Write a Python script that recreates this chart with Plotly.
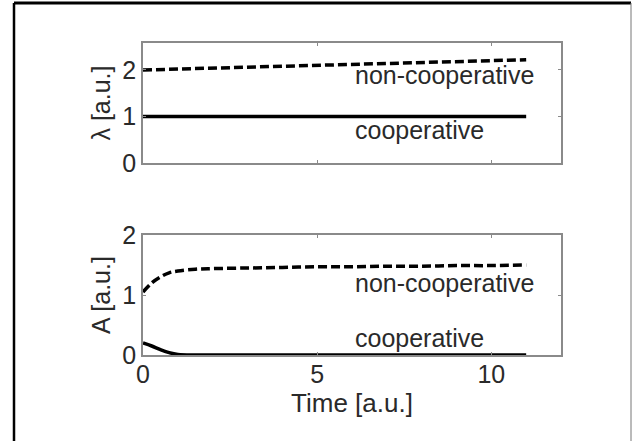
import plotly.graph_objects as go

# ---- data ----
t_lambda = [0, 1, 2, 3, 4, 5, 6, 7, 8, 9, 10, 11]
lambda_noncoop = [2.0, 2.02, 2.04, 2.06, 2.08, 2.10, 2.12, 2.14, 2.16, 2.18, 2.20, 2.22]
lambda_coop = [1.0, 1.0, 1.0, 1.0, 1.0, 1.0, 1.0, 1.0, 1.0, 1.0, 1.0, 1.0]

t_A = [0, 0.25, 0.5, 0.75, 1, 1.5, 2, 3, 4, 5, 6, 7, 8, 9, 10, 11]
A_noncoop = [1.05, 1.2, 1.3, 1.37, 1.4, 1.43, 1.44, 1.45, 1.46, 1.47, 1.47, 1.48, 1.48, 1.49, 1.49, 1.5]
A_coop = [0.2, 0.15, 0.09, 0.04, 0.01, 0.0, 0.0, 0.0, 0.0, 0.0, 0.0, 0.0, 0.0, 0.0, 0.0, 0.0]

x_ticks = [0, 5, 10]
lambda_ticks = [0, 1, 2]
A_ticks = [0, 1, 2]

W, H = 632, 441
FONT = "Liberation Sans, Arial, sans-serif"
TXT = "#2a2a2a"
AXC = "#8a8a8a"
FS = 25

fig = go.Figure()
dash = "9px,4px"
LW = 3.5
fig.add_trace(go.Scatter(x=t_lambda, y=lambda_noncoop, mode="lines",
                         line=dict(color="black", width=LW, dash=dash),
                         xaxis="x", yaxis="y"))
fig.add_trace(go.Scatter(x=t_lambda, y=lambda_coop, mode="lines",
                         line=dict(color="black", width=LW),
                         xaxis="x", yaxis="y"))
fig.add_trace(go.Scatter(x=t_A, y=A_noncoop, mode="lines",
                         line=dict(color="black", width=LW, dash=dash, shape="spline"),
                         xaxis="x2", yaxis="y2"))
fig.add_trace(go.Scatter(x=t_A, y=A_coop, mode="lines",
                         line=dict(color="black", width=LW, shape="spline"),
                         xaxis="x2", yaxis="y2"))

xdom = [143 / W, 561 / W]
top_dom = [1 - 163 / H, 1 - 43 / H]
bot_dom = [1 - 355 / H, 1 - 235 / H]

axis_common = dict(showline=True, linecolor=AXC, linewidth=1.5, mirror="ticks",
                   ticks="inside", ticklen=3, tickcolor=AXC, showgrid=False,
                   zeroline=False, automargin=False,
                   tickfont=dict(family=FONT, size=FS, color=TXT))

fig.update_layout(
    width=W, height=H,
    margin=dict(l=0, r=0, t=0, b=0),
    paper_bgcolor="white", plot_bgcolor="white",
    showlegend=False,
    xaxis=dict(domain=xdom, anchor="y", range=[0, 12], tickvals=x_ticks,
               showticklabels=False, **axis_common),
    yaxis=dict(domain=top_dom, anchor="x", range=[0, 2.58], tickvals=lambda_ticks,
               title=dict(text="λ [a.u.]", font=dict(family=FONT, size=FS, color=TXT), standoff=5),
               **axis_common),
    xaxis2=dict(domain=xdom, anchor="y2", range=[0, 12], tickvals=x_ticks,
                ticklabelstandoff=-4,
                title=dict(text="Time [a.u.]", font=dict(family=FONT, size=FS + 1, color=TXT), standoff=0),
                **axis_common),
    yaxis2=dict(domain=bot_dom, anchor="x2", range=[0, 2], tickvals=A_ticks,
                title=dict(text="A [a.u.]", font=dict(family=FONT, size=FS, color=TXT), standoff=5),
                **axis_common),
)

labels = [
    ("x", "y", 6.03, 1.89, "non-cooperative"),
    ("x", "y", 6.03, 0.71, "cooperative"),
    ("x2", "y2", 6.03, 1.2, "non-cooperative"),
    ("x2", "y2", 6.03, 0.28, "cooperative"),
]
for xr, yr, xv, yv, txt in labels:
    fig.add_annotation(xref=xr, yref=yr, x=xv, y=yv, text=txt, showarrow=False,
                       xanchor="left", yanchor="middle",
                       font=dict(family=FONT, size=FS, color=TXT))

# outer frame
fig.add_shape(type="line", xref="paper", yref="paper", x0=14 / W, x1=14 / W,
              y0=0, y1=1 - 3 / H, line=dict(color="black", width=2.5))
fig.add_shape(type="line", xref="paper", yref="paper", x0=14 / W, x1=631 / W,
              y0=1 - 3 / H, y1=1 - 3 / H, line=dict(color="black", width=3))
fig.add_shape(type="line", xref="paper", yref="paper", x0=631 / W, x1=631 / W,
              y0=0, y1=1 - 3 / H, line=dict(color="#777777", width=1))

fig.write_html("out.html", config={"displayModeBar": False},
               post_script="document.body.style.margin='0';document.body.style.overflow='hidden';")
